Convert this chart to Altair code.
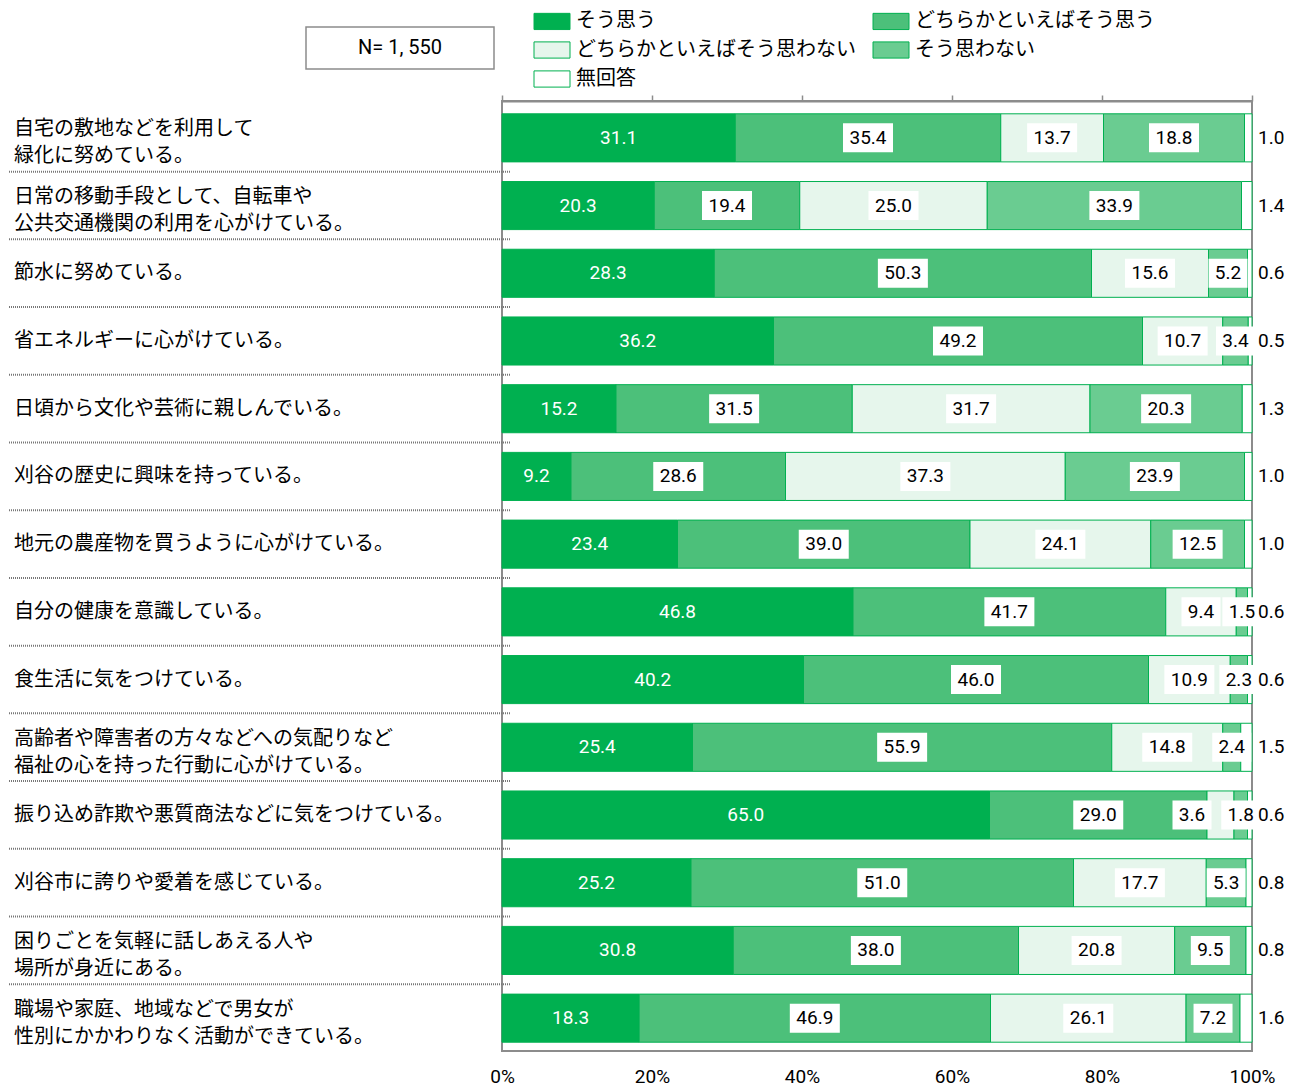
import altair as alt
import pandas as pd

categories = [
    "自宅の敷地などを利用して\n緑化に努めている。",
    "日常の移動手段として、自転車や\n公共交通機関の利用を心がけている。",
    "節水に努めている。",
    "省エネルギーに心がけている。",
    "日頃から文化や芸術に親しんでいる。",
    "刈谷の歴史に興味を持っている。",
    "地元の農産物を買うように心がけている。",
    "自分の健康を意識している。",
    "食生活に気をつけている。",
    "高齢者や障害者の方々などへの気配りなど\n福祉の心を持った行動に心がけている。",
    "振り込め詐欺や悪質商法などに気をつけている。",
    "刈谷市に誇りや愛着を感じている。",
    "困りごとを気軽に話しあえる人や\n場所が身近にある。",
    "職場や家庭、地域などで男女が\n性別にかかわりなく活動ができている。",
]

responses = ["そう思う", "どちらかといえばそう思う", "どちらかといえばそう思わない", "そう思わない", "無回答"]

sou_omou = [31.1, 20.3, 28.3, 36.2, 15.2, 9.2, 23.4, 46.8, 40.2, 25.4, 65.0, 25.2, 30.8, 18.3]
dochira_sou = [35.4, 19.4, 50.3, 49.2, 31.5, 28.6, 39.0, 41.7, 46.0, 55.9, 29.0, 51.0, 38.0, 46.9]
dochira_nai = [13.7, 25.0, 15.6, 10.7, 31.7, 37.3, 24.1, 9.4, 10.9, 14.8, 3.6, 17.7, 20.8, 26.1]
sou_omowanai = [18.8, 33.9, 5.2, 3.4, 20.3, 23.9, 12.5, 1.5, 2.3, 2.4, 1.8, 5.3, 9.5, 7.2]
mukaitou = [1.0, 1.4, 0.6, 0.5, 1.3, 1.0, 1.0, 0.6, 0.6, 1.5, 0.6, 0.8, 0.8, 1.6]

x_ticks = [0, 20, 40, 60, 80, 100]
n_label = "N= 1, 550"

colors = ["#00B050", "#4CC07A", "#E6F6EC", "#6ACC91", "#FFFFFF"]
GREEN = "#00B050"
GRAY = "#8c8c8c"
JP = "Noto Sans CJK JP"
NUM = "Roboto"

series = [sou_omou, dochira_sou, dochira_nai, sou_omowanai, mukaitou]
rows = []
for i in range(len(categories)):
    vals = [s[i] for s in series]
    tot = sum(vals)
    acc = 0.0
    for k, v in enumerate(vals):
        x0 = acc / tot * 100
        acc += v
        x1 = acc / tot * 100
        mid = (x0 + x1) / 2
        # a very narrow third segment gets its label moved left, as in the source
        if k == 2 and v < 5:
            mid = x0 - 2
        rows.append({"i": i, "resp": responses[k], "k": k, "v": v,
                     "x0": x0, "x1": x1, "mid": mid})
df = pd.DataFrame(rows)
cat_df = pd.DataFrame({"i": list(range(len(categories))), "label": categories})
cat_df["two"] = cat_df["label"].str.contains("\n")
sep_df = cat_df[cat_df["i"] < len(categories) - 1]

yscale = alt.Scale(domain=list(range(len(categories))), range=[4, 950],
                   paddingInner=0.29, paddingOuter=0.13)
Y = alt.Y("i:O", scale=yscale, axis=None)
xscale = alt.Scale(domain=[0, 100], nice=False)

bars = alt.Chart(df).mark_bar(stroke=GREEN, strokeWidth=1, opacity=1).encode(
    x=alt.X("x0:Q", scale=xscale,
            axis=alt.Axis(orient="bottom", values=x_ticks, labelExpr="datum.value + '%'",
                          domain=False, ticks=False, grid=False, labelFont=NUM,
                          labelFontSize=19, labelColor="#000", labelPadding=16,
                          labelFlush=False, title=None)),
    x2="x1:Q",
    y=Y,
    color=alt.Color("resp:N", scale=alt.Scale(domain=responses, range=colors),
                    legend=alt.Legend(orient="none", legendX=40, legendY=-90, columns=2,
                                      direction="horizontal", title=None,
                                      symbolType="M-2,-0.9L2,-0.9L2,0.9L-2,0.9Z",
                                      symbolSize=324, symbolStrokeColor=GREEN,
                                      symbolStrokeWidth=1, symbolOpacity=1,
                                      labelFont=JP, labelFontSize=20, labelColor="#000",
                                      labelOffset=14, rowPadding=7, columnPadding=15,
                                      labelLimit=0, padding=0)),
)

inner = df[(df["k"] >= 1) & (df["k"] <= 3)]
box_big = alt.Chart(inner[inner["v"] >= 10]).mark_point(
    shape="M-1,-0.58L1,-0.58L1,0.58L-1,0.58Z", filled=True, fill="white",
    opacity=1, size=2500, strokeWidth=0).encode(
    x=alt.X("mid:Q", scale=xscale, axis=None), y=Y)
box_small = alt.Chart(inner[inner["v"] < 10]).mark_point(
    shape="M-1,-0.744L1,-0.744L1,0.744L-1,0.744Z", filled=True, fill="white",
    opacity=1, size=1521, strokeWidth=0).encode(
    x=alt.X("mid:Q", scale=xscale, axis=None), y=Y)

txt_first = alt.Chart(df[df["k"] == 0]).mark_text(
    font=NUM, fontSize=19, color="white", align="center", baseline="middle").encode(
    x=alt.X("mid:Q", scale=xscale, axis=None), y=Y, text=alt.Text("v:Q", format=".1f"))
txt_inner = alt.Chart(inner).mark_text(
    font=NUM, fontSize=19, color="#000", align="center", baseline="middle").encode(
    x=alt.X("mid:Q", scale=xscale, axis=None), y=Y, text=alt.Text("v:Q", format=".1f"))
txt_out = alt.Chart(df[df["k"] == 4]).mark_text(
    font=NUM, fontSize=19, color="#000", align="left", baseline="middle", dx=6).encode(
    x=alt.X("x1:Q", scale=xscale,
            axis=alt.Axis(orient="top", values=x_ticks, labels=False, ticks=True,
                          tickSize=6, tickColor=GRAY, tickWidth=1.5, domain=True,
                          domainColor=GRAY, domainWidth=2, grid=False, title=None)),
    y=Y, text=alt.Text("v:Q", format=".1f"))

seps = alt.Chart(sep_df).mark_rule(color="#777", strokeWidth=2, strokeDash=[1, 1],
                                   yOffset=33.8).encode(
    y=Y, x=alt.value(-493), x2=alt.value(9))

cat_one = alt.Chart(cat_df[~cat_df["two"]]).mark_text(
    font=JP, fontSize=20, color="#000", align="left", baseline="middle",
    lineBreak="\n", lineHeight=27).encode(
    y=Y, x=alt.value(-488), text="label:N")
cat_two = alt.Chart(cat_df[cat_df["two"]]).mark_text(
    font=JP, fontSize=20, color="#000", align="left", baseline="middle",
    lineBreak="\n", lineHeight=27, dy=-8.5).encode(
    y=Y, x=alt.value(-488), text="label:N")

nbox_df = pd.DataFrame({"t": [n_label]})
nbox = alt.Chart(nbox_df).mark_rect(fill="white", stroke=GRAY, strokeWidth=1.5).encode(
    x=alt.value(-196), x2=alt.value(-8), y=alt.value(-74), y2=alt.value(-32))
ntxt = alt.Chart(nbox_df).mark_text(
    font=NUM, fontSize=20, color="#000", align="center", baseline="middle").encode(
    x=alt.value(-102), y=alt.value(-53), text="t:N")

chart = alt.layer(
    nbox, ntxt, seps, cat_one, cat_two, bars, box_big, box_small,
    txt_first, txt_inner, txt_out
).resolve_axis(x="independent").properties(
    width=750, height=950, padding={"top": 3, "left": 0, "right": 0, "bottom": 0}
).configure_view(stroke=GRAY, strokeWidth=2)

chart.save("out.html", embed_options={"renderer": "svg", "actions": False})
